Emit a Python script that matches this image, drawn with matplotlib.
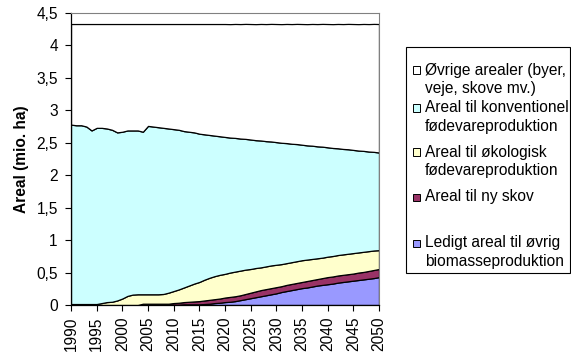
import numpy as np
import matplotlib
matplotlib.use("Agg")
import matplotlib.pyplot as plt
from matplotlib.patches import Rectangle
from matplotlib.ticker import FuncFormatter, MultipleLocator

# data (mio. ha), 1990-2050, one value per year
years = list(range(1990, 2051))

ledigt = [0.0] * 20 + [
    0.005, 0.005, 0.01, 0.01, 0.01, 0.01, 0.015, 0.02, 0.03, 0.035,
    0.045, 0.05, 0.06, 0.075, 0.09, 0.105, 0.12, 0.135, 0.15, 0.165,
    0.18, 0.2, 0.215, 0.23, 0.245, 0.26, 0.27, 0.285, 0.3, 0.31,
    0.32, 0.33, 0.345, 0.355, 0.365, 0.375, 0.385, 0.395, 0.405, 0.415,
    0.43]

ny_skov = [0.0] * 14 + [0.02] * 6 + [
    0.025, 0.03, 0.035, 0.04, 0.045, 0.05, 0.055, 0.06, 0.06, 0.065,
    0.07, 0.075, 0.075, 0.075, 0.08, 0.085, 0.09, 0.095, 0.095, 0.095,
    0.095, 0.09, 0.095, 0.095, 0.095, 0.095, 0.1, 0.1, 0.1, 0.105,
    0.11, 0.11, 0.11, 0.11, 0.11, 0.11, 0.115, 0.115, 0.12, 0.125,
    0.125]

oekologisk = [0.015] * 6 + [
    0.03, 0.045, 0.05, 0.07, 0.1, 0.14, 0.16, 0.165,
    0.145, 0.145, 0.145, 0.145, 0.15, 0.17,
    0.185, 0.205, 0.225, 0.25, 0.275, 0.295, 0.32, 0.34, 0.355, 0.365,
    0.365, 0.375, 0.38, 0.38, 0.375, 0.365, 0.36, 0.35, 0.35, 0.35,
    0.345, 0.34, 0.335, 0.335, 0.335, 0.335, 0.33, 0.325, 0.32, 0.315,
    0.315, 0.315, 0.315, 0.315, 0.315, 0.315, 0.31, 0.31, 0.305, 0.3,
    0.29]

konventionel = [
    2.765, 2.755, 2.755, 2.735, 2.675, 2.715, 2.70, 2.675, 2.65, 2.59,
    2.57, 2.55, 2.53, 2.525, 2.505, 2.595, 2.585, 2.575, 2.56, 2.53,
    2.495, 2.46, 2.41, 2.37, 2.33, 2.285, 2.24, 2.20, 2.165, 2.135,
    2.11, 2.08, 2.06, 2.035, 2.015, 1.995, 1.97, 1.955, 1.93, 1.91,
    1.89, 1.87, 1.85, 1.825, 1.805, 1.78, 1.76, 1.745, 1.725, 1.71,
    1.685, 1.665, 1.645, 1.625, 1.61, 1.59, 1.57, 1.555, 1.535, 1.52,
    1.505]

oevrige = [
    1.55, 1.56, 1.56, 1.58, 1.64, 1.60, 1.60, 1.61, 1.63, 1.67,
    1.66, 1.64, 1.64, 1.64, 1.66, 1.57, 1.58, 1.59, 1.60, 1.61,
    1.62, 1.63, 1.65, 1.66, 1.67, 1.69, 1.70, 1.71, 1.72, 1.73,
    1.74, 1.748, 1.756, 1.764, 1.772, 1.78, 1.788, 1.796, 1.804, 1.812,
    1.82, 1.828, 1.836, 1.844, 1.852, 1.86, 1.868, 1.876, 1.884, 1.892,
    1.90, 1.908, 1.916, 1.924, 1.932, 1.94, 1.948, 1.956, 1.964, 1.972,
    1.98]

series = [ledigt, ny_skov, oekologisk, konventionel, oevrige]
colors = ["#9999FF", "#993366", "#FFFFCC", "#CCFFFF", "#FFFFFF"]

legend_labels = [
    ["Øvrige arealer (byer,", "veje, skove mv.)"],
    ["Areal til konventionel", "fødevareproduktion"],
    ["Areal til økologisk", "fødevareproduktion"],
    ["Areal til ny skov"],
    ["Ledigt areal til øvrig", "biomasseproduktion"],
]
legend_colors = colors[::-1]

plt.rcParams["font.family"] = ["Liberation Sans", "DejaVu Sans"]
fs = 11.2

fig = plt.figure(figsize=(5.71, 3.57), dpi=100)
ax = fig.add_axes([71 / 571, 1 - 305 / 357, 308 / 571, 292 / 357])

ax.stackplot(years, np.round(series, 3), colors=colors, edgecolor="black", linewidth=0.9)

ax.set_xlim(1990, 2050)
ax.set_ylim(0, 4.5)
ax.xaxis.set_major_locator(MultipleLocator(5))
ax.yaxis.set_major_locator(MultipleLocator(0.5))
ax.yaxis.set_major_formatter(FuncFormatter(lambda v, p: f"{v:g}".replace(".", ",")))
ax.tick_params(axis="x", labelrotation=90, labelsize=fs, direction="out", length=4, width=0.8, pad=4.5)
ax.tick_params(axis="y", labelsize=fs, direction="out", length=4, width=0.8, pad=5.5)
ax.set_ylabel("Areal (mio. ha)", fontsize=fs, fontweight="bold", labelpad=5)

for side in ["top", "right"]:
    ax.spines[side].set_color("#808080")
    ax.spines[side].set_linewidth(0.8)
for side in ["left", "bottom"]:
    ax.spines[side].set_color("black")
    ax.spines[side].set_linewidth(0.9)

# legend drawn by hand so markers line up with the first text line
W, H = 571, 357
fig.patches.append(Rectangle((406 / W, 1 - 272.5 / H), 164 / W, 226 / H,
                             transform=fig.transFigure, facecolor="white",
                             edgecolor="black", linewidth=0.8))
first_line_y = [70, 108, 152, 197, 243]
for lines, col, y0 in zip(legend_labels, legend_colors, first_line_y):
    fig.patches.append(Rectangle((413 / W, 1 - (y0 + 3.5) / H), 7 / W, 7 / H,
                                 transform=fig.transFigure, facecolor=col,
                                 edgecolor="black", linewidth=0.7))
    for i, line in enumerate(lines):
        fig.text(425 / W, 1 - (y0 + i * 18.3) / H, line, fontsize=fs,
                 va="center", ha="left")

fig.savefig("out.png", dpi=100)
